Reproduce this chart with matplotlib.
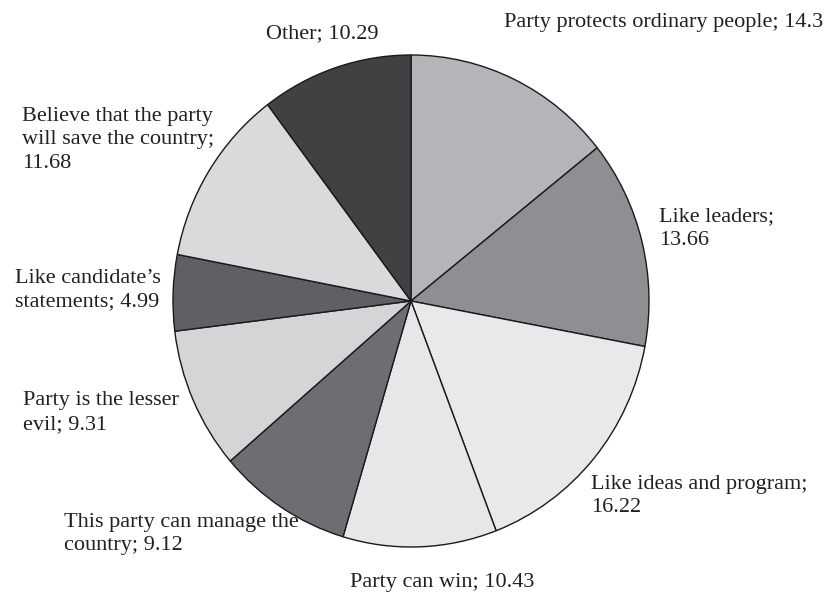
import matplotlib.pyplot as plt
import numpy as np

# reasons for voting, clockwise from 12 o'clock
labels = ["Party protects ordinary people", "Like leaders", "Like ideas and program",
          "Party can win", "This party can manage the country", "Party is the lesser evil",
          "Like candidate\u2019s statements", "Believe that the party will save the country",
          "Other"]
values = [14.3, 13.66, 16.22, 10.43, 9.12, 9.31, 4.99, 11.68, 10.29]
colors = ["#b4b5b8", "#8e8f92", "#e8e9eb", "#e6e7e9", "#6d6e71",
          "#d4d5d7", "#5f6063", "#d9dadc", "#404143"]

# text of each label as printed (line breaks), and where its first line sits
# (left x, baseline y of first line, in pixels from top-left)
label_text = ["Party protects ordinary people; 14.3",
              "Like leaders;\n13.66",
              "Like ideas and program;\n16.22",
              "Party can win; 10.43",
              "This party can manage the\ncountry; 9.12",
              "Party is the lesser\nevil; 9.31",
              "Like candidate\u2019s\nstatements; 4.99",
              "Believe that the party\nwill save the country;\n11.68",
              "Other; 10.29"]
label_pos = [(504, 28), (659, 223), (591, 490), (350, 588), (64, 528),
             (23, 407), (15, 284), (22, 122), (266, 40)]

W, H = 829, 592
fig = plt.figure(figsize=(W / 100, H / 100), dpi=100)
plt.rcParams['font.family'] = ['Liberation Serif', 'DejaVu Serif']

cx, cy, rx, ry = 411, 301, 238, 246
ax = fig.add_axes([(cx - rx) / W, (H - cy - ry) / H, 2 * rx / W, 2 * ry / H])
ax.pie(values, colors=colors, startangle=90, counterclock=False,
       wedgeprops=dict(edgecolor='#1a1a1a', linewidth=1.0))
ax.set_aspect('auto')
ax.set_xlim(-1, 1)
ax.set_ylim(-1, 1)
ax.axis('off')

for t, (x, y) in zip(label_text, label_pos):
    fig.text(x / W, 1 - (y - 15.5) / H, t, ha='left', va='top', fontsize=16,
             color='#231f20', linespacing=1.33)

fig.savefig("out.png", dpi=100, facecolor='white')
